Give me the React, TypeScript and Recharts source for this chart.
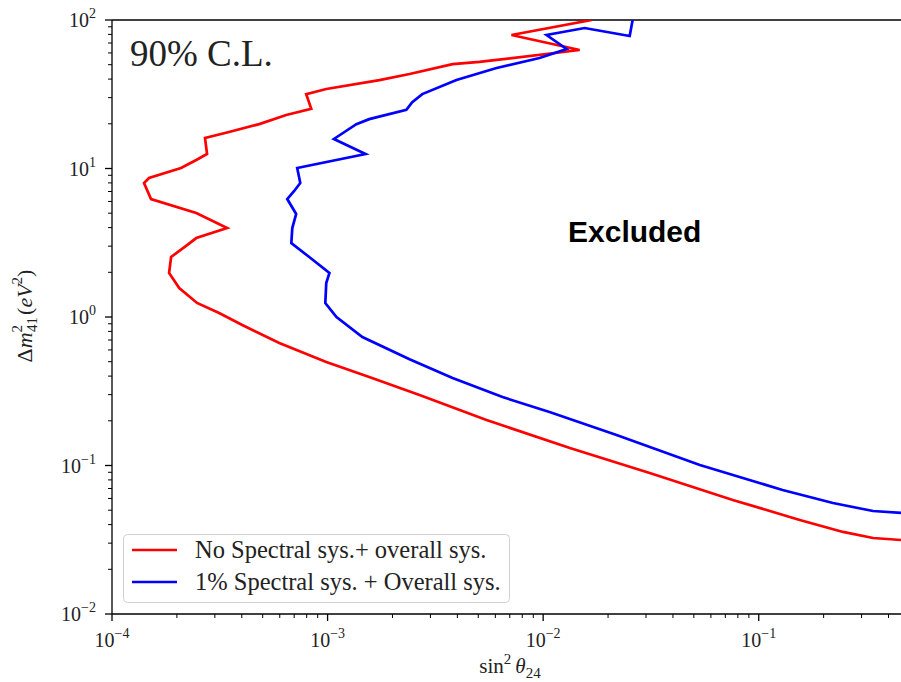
import { LineChart, Line, XAxis, YAxis, Legend, ReferenceLine, Customized } from 'recharts';

// sin^2(theta_24) / delta m^2_41, top of the contour down to the right edge
const sinRed = [
  0.0168, 0.00713, 0.01476, 0.00506, 0.0038, 0.0024, 0.00174, 0.000986, 0.000796, 0.00084,
  0.000643, 0.000482, 0.000349, 0.00027, 0.000276, 0.000246, 0.000209, 0.0001485, 0.0001408, 0.0001517,
  0.000246, 0.000342, 0.000246, 0.000223, 0.000188, 0.000184, 0.000205, 0.000248, 0.000314, 0.000402,
  0.000597, 0.000986, 0.00156, 0.00267, 0.00546, 0.0133, 0.0312, 0.0758, 0.155, 0.246, 0.339, 0.457,
];
const dmRed = [
  100, 79.2, 62.8, 52.2, 50.5, 43.3, 39.4, 34.3, 31.7, 25.2,
  22.9, 19.9, 17.6, 16.05, 12.52, 11.41, 10.08, 8.63, 7.99, 6.23,
  5.02, 3.97, 3.4, 3.05, 2.535, 1.978, 1.568, 1.243, 1.064, 0.884,
  0.668, 0.498, 0.394, 0.298, 0.2025, 0.131, 0.089, 0.0586, 0.043, 0.0357, 0.0325, 0.0315,
];
const sinBlue = [
  0.026, 0.0252, 0.01557, 0.01037, 0.01285, 0.00962, 0.00608, 0.00396, 0.00275, 0.00247,
  0.00232, 0.00156, 0.00136, 0.00107, 0.0015, 0.000723, 0.000747, 0.0007, 0.00065, 0.000715,
  0.000686, 0.000679, 0.000822, 0.00102, 0.000986, 0.000976, 0.0011, 0.00145, 0.0024, 0.0038,
  0.00648, 0.0107, 0.0219, 0.0533, 0.129, 0.221, 0.339, 0.457,
];
const dmBlue = [
  100, 78, 88.3, 79.2, 63.8, 55.5, 47.5, 39.4, 31.7, 28,
  24.8, 21.5, 19.9, 15.8, 12.52, 10.08, 7.99, 7.06, 6.23, 4.94,
  3.97, 3.15, 2.535, 1.978, 1.694, 1.243, 1.0, 0.733, 0.52, 0.388,
  0.289, 0.229, 0.1605, 0.1008, 0.0684, 0.0559, 0.0494, 0.0479,
];

const seriesNames = ['No Spectral sys.+ overall sys.', '1% Spectral sys. + Overall sys.'];
const seriesColors = ['#ff0000', '#0000ff'];

const xMajor = [1e-4, 1e-3, 1e-2, 1e-1];
const xMajorExp = ['\u22124', '\u22123', '\u22122', '\u22121'];
const yMajor = [1e-2, 1e-1, 1, 10, 100];
const yMajorExp = ['\u22122', '\u22121', '0', '1', '2'];
const minorSteps = [2, 3, 4, 5, 6, 7, 8, 9];

const X_MAX = 0.457;
const xMinor = xMajor.flatMap((d) => minorSteps.map((m) => m * d)).filter((v) => v < X_MAX);
const yMinor = yMajor.slice(0, -1).flatMap((d) => minorSteps.map((m) => m * d));

const redData = sinRed.map((s, i) => ({ sin: s, dm: dmRed[i] }));
const blueData = sinBlue.map((s, i) => ({ sin: s, dm: dmBlue[i] }));

const SERIF = "'Liberation Serif', 'DejaVu Serif', serif";

const majorIndex = (arr: number[], v: number) => arr.findIndex((m) => Math.abs(m - v) / m < 1e-6);

function XTick({ x, y, payload }: any) {
  const i = majorIndex(xMajor, payload.value);
  if (i < 0) return <line x1={x} x2={x} y1={y} y2={y + 4} stroke="#000" strokeWidth={1} />;
  return (
    <g>
      <line x1={x} x2={x} y1={y} y2={y + 7} stroke="#000" strokeWidth={1.3} />
      <text x={x} y={y + 33} textAnchor="middle" fontFamily={SERIF} fontSize={20} fill="#222">
        10<tspan dy={-9} fontSize={14}>{xMajorExp[i]}</tspan>
      </text>
    </g>
  );
}

function YTick({ x, y, payload }: any) {
  const i = majorIndex(yMajor, payload.value);
  if (i < 0) return <line x1={x - 4} x2={x} y1={y} y2={y} stroke="#000" strokeWidth={1} />;
  return (
    <g>
      <line x1={x - 7} x2={x} y1={y} y2={y} stroke="#000" strokeWidth={1.3} />
      <text x={x - 16} y={y + 7} textAnchor="end" fontFamily={SERIF} fontSize={20} fill="#222">
        10<tspan dy={-9} fontSize={14}>{yMajorExp[i]}</tspan>
      </text>
    </g>
  );
}

function Annotations() {
  return (
    <g>
      <text x={130} y={66} fontFamily={SERIF} fontSize={37} fill="#222">90% C.L.</text>
      <text x={568} y={242} fontFamily="'Liberation Sans', Arial, sans-serif" fontWeight="bold" fontSize={30} fill="#000">
        Excluded
      </text>
      <text x={510} y={673} textAnchor="middle" fontFamily={SERIF} fontSize={21} fill="#222">
        sin<tspan dy={-9} fontSize={15}>2</tspan>
        <tspan dx={4} dy={9} fontStyle="italic">θ</tspan>
        <tspan dy={5} fontSize={15}>24</tspan>
      </text>
      <text transform="translate(32,316) rotate(-90)" textAnchor="middle" fontFamily={SERIF} fontSize={22} fill="#222">
        Δ<tspan fontStyle="italic">m</tspan>
        <tspan dy={-10} fontSize={15}>2</tspan>
        <tspan dx={-7} dy={15} fontSize={15}>41</tspan>
        <tspan dx={2} dy={-5}>(</tspan>
        <tspan fontStyle="italic">eV</tspan>
        <tspan dy={-10} fontSize={15}>2</tspan>
        <tspan dy={10}>)</tspan>
      </text>
    </g>
  );
}

function LegendBox() {
  return (
    <svg width={387} height={69} style={{ display: 'block' }}>
      <rect x={0.5} y={0.5} width={386} height={68} rx={4} fill="rgba(255,255,255,0.8)" stroke="#d0d0d0" />
      {seriesNames.map((name, i) => (
        <g key={name}>
          <line x1={9} x2={54} y1={16 + i * 32} y2={16 + i * 32} stroke={seriesColors[i]} strokeWidth={2.7} />
          <text x={72} y={24 + i * 32} fontFamily={SERIF} fontSize={24.5} fill="#222">{name}</text>
        </g>
      ))}
    </svg>
  );
}

export default function App() {
  return (
    <div style={{ position: 'absolute', left: 0, top: 0, width: 901, height: 682, background: '#fff' }}>
      <LineChart width={901} height={682} margin={{ top: 20, right: 0, bottom: 0, left: 0 }}>
        <XAxis
          dataKey="sin"
          type="number"
          scale="log"
          domain={[1e-4, X_MAX]}
          allowDataOverflow
          ticks={[...xMajor, ...xMinor]}
          interval={0}
          tickSize={0}
          tickMargin={0}
          tickLine={false}
          tick={XTick}
          height={68}
          axisLine={{ stroke: '#000', strokeWidth: 1.3 }}
        />
        <YAxis
          dataKey="dm"
          type="number"
          scale="log"
          domain={[0.01, 100]}
          allowDataOverflow
          ticks={[...yMajor, ...yMinor]}
          interval={0}
          tickSize={0}
          tickMargin={0}
          tickLine={false}
          tick={YTick}
          width={112}
          axisLine={{ stroke: '#000', strokeWidth: 1.3 }}
        />
        <ReferenceLine y={100} stroke="#000" strokeWidth={1.3} />
        <Line data={redData} dataKey="dm" type="linear" stroke={seriesColors[0]} strokeWidth={2.7} dot={false} isAnimationActive={false} />
        <Line data={blueData} dataKey="dm" type="linear" stroke={seriesColors[1]} strokeWidth={2.7} dot={false} isAnimationActive={false} />
        <Customized component={Annotations} />
        <Legend
          layout="vertical"
          align="center"
          verticalAlign="middle"
          content={() => <LegendBox />}
          wrapperStyle={{ left: 123, top: 534, width: 387, height: 69 }}
        />
      </LineChart>
    </div>
  );
}
